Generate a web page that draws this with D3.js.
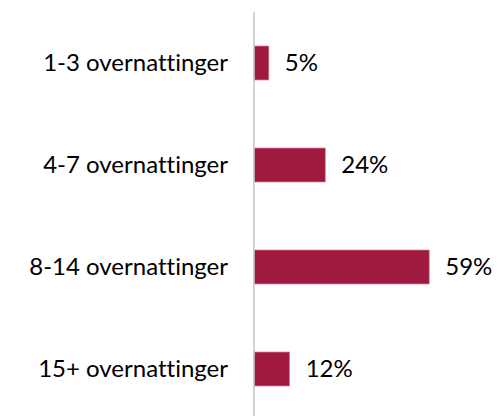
<!DOCTYPE html>
<html>
<head>
<meta charset="utf-8">
<script src="https://cdn.jsdelivr.net/npm/d3@7"></script>
<style>
  body { margin: 0; background: #fff; }
  text { font-family: Lato, "Open Sans", sans-serif; fill: #000; font-variant-ligatures: none; }
</style>
</head>
<body>
<script>
// Data.
var categories = ["1-3 overnattinger", "4-7 overnattinger", "8-14 overnattinger", "15+ overnattinger"],
  values = [5, 24, 59, 12];

// Configuration parameters.
var width = 498,
  height = 416,
  axisX = 254,
  barColor = "#a0193f",
  fontSize = 24;

var svg = d3.select("body").append("svg")
    .attr("width", width)
    .attr("height", height);

var x = d3.scaleLinear()
    .domain([0, 100])
    .range([axisX, axisX + 297]);

var y = d3.scaleBand()
    .domain(categories)
    .range([12, 420])
    .paddingInner(2 / 3)
    .paddingOuter(1 / 3);

// Bars.
svg.append("g").selectAll("rect")
    .data(values)
  .enter().append("rect")
    .attr("x", x(0))
    .attr("y", function(d, i) { return y(categories[i]); })
    .attr("width", function(d) { return x(d) - x(0); })
    .attr("height", y.bandwidth())
    .style("fill", barColor)
    .style("stroke", "#d9849c")
    .style("stroke-width", 0.7);

// Category axis line.
svg.append("line")
    .attr("x1", axisX)
    .attr("x2", axisX)
    .attr("y1", 12)
    .attr("y2", height)
    .style("stroke", "#c4c4c4")
    .style("stroke-width", 1.5);

// Category labels.
svg.append("g").selectAll("text")
    .data(categories)
  .enter().append("text")
    .attr("x", 228)
    .attr("y", function(d) { return y(d) + y.bandwidth() / 2; })
    .attr("dy", "0.35em")
    .attr("text-anchor", "end")
    .style("font-size", fontSize + "px")
    .text(function(d) { return d; });

// Value labels.
svg.append("g").selectAll("text")
    .data(values)
  .enter().append("text")
    .attr("x", function(d) { return x(d) + 16; })
    .attr("y", function(d, i) { return y(categories[i]) + y.bandwidth() / 2; })
    .attr("dy", "0.35em")
    .style("font-size", fontSize + "px")
    .text(function(d) { return d + "%"; });
</script>
</body>
</html>
